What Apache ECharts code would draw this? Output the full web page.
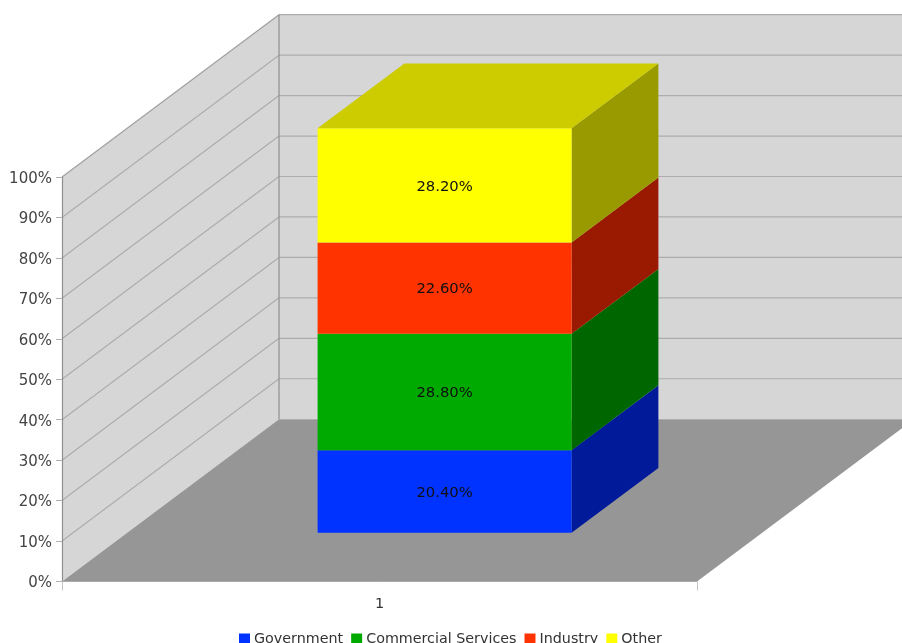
<!DOCTYPE html>
<html><head><meta charset="utf-8">
<style>html,body{margin:0;padding:0;background:#fff;overflow:hidden}#c{width:902px;height:643px}</style>
<script src="https://cdn.jsdelivr.net/npm/echarts@6/dist/echarts.min.js"></script>
</head><body><div id="c"></div>
<script>
const categories = ['1'];
const seriesNames = ['Government', 'Commercial Services', 'Industry', 'Other'];
const government = [20.4];
const commercial = [28.8];
const industry = [22.6];
const other = [28.2];
const valueLists = [government, commercial, industry, other];
const yTicks = [0, 10, 20, 30, 40, 50, 60, 70, 80, 90, 100];

const frontColors = ['#0033ff', '#00aa00', '#ff3300', '#ffff00'];
const sideColors = ['#001a99', '#006600', '#991a00', '#999900'];
const topColor = '#cccc00';
const WALL = '#d6d6d6', FLOOR = '#969696', GRID_LINE = '#adadad', EDGE = '#8f8f8f';
const DX = 217, DY = -162.3;         // full depth projection
const BAR_NEAR = 0.30, BAR_FAR = 0.70, BAR_WIDTH = 0.40;
const FONT = '"DejaVu Sans"';

const shift = (p, d) => [p[0] + DX * d, p[1] + DY * d];
const poly = (points, fill, stroke) => ({
  type: 'polygon', shape: { points },
  style: { fill, stroke: stroke || null, lineWidth: stroke ? 1 : 0 }
});
const seg = (a, b, stroke, w) => ({
  type: 'line', shape: { x1: a[0], y1: a[1], x2: b[0], y2: b[1] },
  style: { stroke, lineWidth: w || 1 }
});

function renderWalls(params, api) {
  const w = api.size([1, 0])[0];
  const c0 = api.coord([0, 0]), c100 = api.coord([0, 100]);
  const l = c0[0] - w / 2, r = c0[0] + w / 2;
  const bl = [l, c0[1]], tl = [l, c100[1]], br = [r, c0[1]], tr = [r, c100[1]];
  const children = [
    poly([bl, shift(bl, 1), shift(tl, 1), tl], WALL),
    poly([shift(bl, 1), shift(br, 1), shift(tr, 1), shift(tl, 1)], WALL)
  ];
  yTicks.forEach(t => {
    if (t === 0) return;
    const y = api.coord([0, t])[1];
    children.push(seg([l, y], shift([l, y], 1), t === 100 ? '#a0a0a0' : GRID_LINE, 1.2));
    children.push(seg(shift([l, y], 1), shift([r, y], 1), GRID_LINE, 1.2));
  });
  children.push(seg(shift(bl, 1), shift(tl, 1), EDGE, 1.2));
  children.push(poly([bl, br, shift(br, 1), shift(bl, 1)], FLOOR));
  return { type: 'group', children };
}

function renderBlock(i) {
  return function (params, api) {
    const idx = api.value(0);
    let base = 0;
    for (let k = 0; k < i; k++) base += valueLists[k][idx];
    const val = api.value(1);
    const w = api.size([1, 0])[0] * BAR_WIDTH;
    const a = api.coord([idx, base]), b = api.coord([idx, base + val]);
    const nl = shift([a[0] - w / 2, a[1]], BAR_NEAR);
    const nr = shift([a[0] + w / 2, a[1]], BAR_NEAR);
    const tl = shift([a[0] - w / 2, b[1]], BAR_NEAR);
    const tr = shift([a[0] + w / 2, b[1]], BAR_NEAR);
    const d = BAR_FAR - BAR_NEAR;
    const children = [
      poly([nr, shift(nr, d), shift(tr, d), tr], sideColors[i]),
      poly([nl, nr, tr, tl], frontColors[i])
    ];
    if (i === valueLists.length - 1) {
      children.push(poly([tl, tr, shift(tr, d), shift(tl, d)], topColor));
    }
    children.push({
      type: 'text',
      style: {
        x: (nl[0] + nr[0]) / 2, y: (nl[1] + tl[1]) / 2 + 1.5,
        text: val.toFixed(2) + '%', fill: '#111', align: 'center', verticalAlign: 'middle',
        font: '14.8px ' + FONT
      }
    });
    return { type: 'group', children };
  };
}

const series = [{
  type: 'custom', name: 'walls', z: 1, clip: false, silent: true,
  coordinateSystem: 'cartesian2d', renderItem: renderWalls, data: [[0, 0]], encode: { x: 0, y: 1 }
}];
seriesNames.forEach((name, i) => {
  series.push({
    type: 'custom', name, z: 3 + i, clip: false,
    coordinateSystem: 'cartesian2d', renderItem: renderBlock(i),
    itemStyle: { color: frontColors[i] },
    data: valueLists[i].map((v, idx) => [idx, v]), encode: { x: 0, y: 1 }
  });
});

const chart = echarts.init(document.getElementById('c'), null, { renderer: 'canvas' });
chart.setOption({
  animation: false,
  backgroundColor: '#fff',
  grid: { left: 62, top: 177, width: 635, height: 404.5, containLabel: false },
  xAxis: {
    type: 'category', data: categories, z: 8,
    axisLine: { show: true, lineStyle: { color: '#aaa', width: 1 } },
    axisTick: { show: true, length: 9, alignWithLabel: false, lineStyle: { color: '#c4c4c4' } },
    axisLabel: { color: '#333', fontFamily: FONT, fontSize: 14.5, margin: 15 },
    splitLine: { show: false }
  },
  yAxis: {
    type: 'value', min: 0, max: 100, interval: 10, z: 8,
    axisLine: { show: true, lineStyle: { color: EDGE, width: 1.2 } },
    axisTick: { show: true, length: 6, lineStyle: { color: '#b0b0b0' } },
    axisLabel: { color: '#444', fontFamily: FONT, fontSize: 15, margin: 10,
      formatter: v => yTicks.includes(v) ? '{a|' + v + '%}' : '',
      rich: { a: { color: '#444', fontFamily: FONT, fontSize: 15, padding: [4, 0, 0, 0] } } },
    splitLine: { show: false }
  },
  legend: {
    data: seriesNames, left: 234, top: 627, itemWidth: 11, itemHeight: 11, itemGap: 8,
    icon: 'rect', selectedMode: false,
    textStyle: { color: '#333', fontFamily: FONT, fontSize: 14.3, padding: [0, 0, 0, -1] }
  },
  series
});
</script></body></html>
